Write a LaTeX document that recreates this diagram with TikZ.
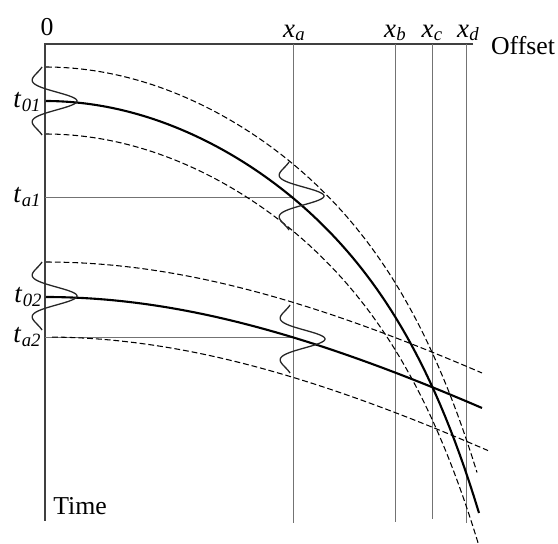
\documentclass[tikz,border=0pt]{standalone}
\usepackage{fontspec}
\setmainfont{Liberation Serif}
\usepackage{tikz}
\usetikzlibrary{positioning}
\tikzset{
  axisline/.style={draw=black!75, line width=1.3pt},
  gridline/.style={draw=black!55, line width=0.8pt},
  event/.style={draw=black, line width=1.8pt},
  bound/.style={draw=black, line width=0.9pt, dash pattern=on 5pt off 2.5pt},
  wavelet/.style={draw=black!85, line width=1.1pt},
  axislabel/.style={font=\fontsize{22}{26}\selectfont, inner sep=0pt},
  timelabel/.style={font=\fontsize{23}{26}\selectfont, inner sep=0pt}
}
% italic letter with small italic index
\newcommand\idxlabel[2]{\textit{#1}\kern0.01em\raisebox{-0.12em}{\fontsize{16}{16}\selectfont\textit{#2}}}
% Ricker-like wavelet standing on a vertical trace
\newcommand\ricker[2]{%
  \draw[wavelet] plot[domain=-2:2, samples=70, smooth, variable=\u]
    ({#1 + 31*(1-2*\u*\u)*exp(-\u*\u)}, {#2 + 17*\u});}

\begin{document}
\begin{tikzpicture}[x=0.03cm, y=-0.03cm,
  declare function={
    evone(\x) = 101 + 289.7*((\x-45)/434)^2 + 122.3*((\x-45)/434)^7;
    evtwo(\x) = 44 + 100*sqrt(2.53*2.53 + ((\x-45)/167)^2);
  }]
\useasboundingbox (0,0) rectangle (558,544);

% axes
\coordinate (origin) at (45,44);
\coordinate (offsetend) at (473,44);
\coordinate (timeend) at (45,521);
\draw[axisline] (offsetend) -- (origin) -- (timeend);

% receiver traces
\draw[gridline] (293,44) -- (293,523);
\draw[gridline] (395,44) -- (395,522);
\draw[gridline] (432,44) -- (432,519);
\draw[gridline] (466,44) -- (466,523);

% picked arrival times
\draw[gridline] (45,197) -- (293,197);
\draw[gridline] (45,337) -- (293,337);

% first reflection with its window
\draw[bound] plot[domain=46:477, samples=90, variable=\x] (\x, {evone(\x) - 34});
\draw[event] plot[domain=46:479, samples=90, variable=\x] (\x, {evone(\x)});
\draw[bound] plot[domain=46:478, samples=90, variable=\x] (\x, {evone(\x) + 33});

% second reflection with its window
\draw[bound] plot[domain=46:482, samples=60, variable=\x] (\x, {evtwo(\x) - 35});
\draw[event] plot[domain=46:482, samples=60, variable=\x] (\x, {evtwo(\x)});
\draw[bound] plot[domain=52:488, samples=60, variable=\x] (\x, {evtwo(\x) + 40});

% wavelets
\ricker{46}{101}
\ricker{46}{296}
\ricker{293}{196}
\ricker{294}{339}

% labels
\node[axislabel] (zero) at (47,27) {0};
\node[timelabel] (xa) at (294,33) {\idxlabel{x}{a}};
\node[timelabel] (xb) at (395,33) {\idxlabel{x}{b}};
\node[timelabel] (xc) at (432,33) {\idxlabel{x}{c}};
\node[timelabel] (xd) at (468,33) {\idxlabel{x}{d}};
\node[axislabel] (offset) at (523,46) {Offset};
\node[axislabel] (time) at (80,506) {Time};
\node[timelabel] (t01) at (27,102) {\idxlabel{t}{01}};
\node[timelabel] (ta1) at (27,197) {\idxlabel{t}{a1}};
\node[timelabel] (t02) at (28,297) {\idxlabel{t}{02}};
\node[timelabel] (ta2) at (27,337) {\idxlabel{t}{a2}};
\end{tikzpicture}
\end{document}
